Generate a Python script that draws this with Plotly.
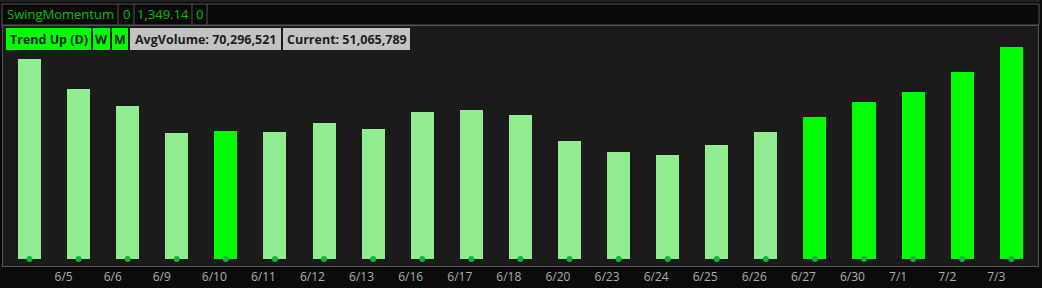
import plotly.graph_objects as go

# ---- data ----
dates = ["6/4", "6/5", "6/6", "6/9", "6/10", "6/11", "6/12", "6/13", "6/16", "6/17", "6/18",
         "6/20", "6/23", "6/24", "6/25", "6/26", "6/27", "6/30", "7/1", "7/2", "7/3"]
volumes = [48175000, 40949000, 36854000, 30350000, 30832000, 30591000, 32759000, 31314000,
           35409000, 35890000, 34686000, 28423000, 25774000, 25051000, 27460000, 30591000,
           34204000, 37818000, 40226000, 45044000, 51065789]
strong = [0, 0, 0, 0, 1, 0, 0, 0, 0, 0, 0, 0, 0, 0, 0, 0, 1, 1, 1, 1, 1]
header_cells = ["SwingMomentum", "0", "1,349.14", "0"]
label_cells = ["Trend Up (D)", "W", "M", "AvgVolume: 70,296,521", "Current: 51,065,789"]

W, H = 1042, 288
LIGHT = "#90ee90"
BRIGHT = "#00ff00"

xs = list(range(len(dates)))
colors = [BRIGHT if s else LIGHT for s in strong]

fig = go.Figure()
fig.add_trace(go.Bar(x=xs, y=volumes, marker=dict(color=colors, line=dict(width=0)),
                     width=0.47, hoverinfo="skip"))
fig.add_trace(go.Scatter(x=xs, y=[0] * len(xs), mode="markers",
                         marker=dict(color="#12b43a", size=6), hoverinfo="skip"))


def px(X):
    return X / W


def py(Y):
    return 1 - Y / H


# plot area in pixels
PL, PR, PT, PB = 3, 1038, 26, 266
step = 49.09
c0 = 29.5
xr = [(PL - c0) / step, (PR - c0) / step]
per_px = 51065789 / 212.0
yr = [-(PB - 259) * per_px, (259 - PT) * per_px]

shapes = []
# header strip
shapes.append(dict(type="line", xref="paper", yref="paper", x0=0, x1=px(1040), y0=py(1), y1=py(1),
                   line=dict(color="#3a3a3a", width=1)))
shapes.append(dict(type="rect", xref="paper", yref="paper", x0=px(2), x1=px(1039), y0=py(4), y1=py(25),
                   fillcolor="#0a0a0a", line=dict(color="#555555", width=1), layer="below"))
hdr_edges = [2, 118, 134, 192, 207]
for xe in hdr_edges[1:]:
    shapes.append(dict(type="line", xref="paper", yref="paper", x0=px(xe), x1=px(xe), y0=py(4), y1=py(25),
                       line=dict(color="#555555", width=1)))

annotations = []
for i, t in enumerate(header_cells):
    cx = (hdr_edges[i] + hdr_edges[i + 1]) / 2
    annotations.append(dict(text=t, xref="paper", yref="paper", x=px(cx), y=py(14.5),
                            showarrow=False, xanchor="center", yanchor="middle",
                            font=dict(family="Open Sans", size=13, color="#00c000")))

# label boxes
box_x = [(6, 91), (93, 110), (112, 128), (130, 281), (283, 410)]
box_fill = [BRIGHT, BRIGHT, BRIGHT, "#c3c3c3", "#c3c3c3"]
for (x0, x1), f, t in zip(box_x, box_fill, label_cells):
    shapes.append(dict(type="rect", xref="paper", yref="paper", x0=px(x0), x1=px(x1), y0=py(28), y1=py(50),
                       fillcolor=f, line=dict(width=0), layer="above"))
    annotations.append(dict(text="<b>" + t + "</b>", xref="paper", yref="paper", x=px((x0 + x1) / 2),
                            y=py(39.5), showarrow=False, xanchor="center", yanchor="middle",
                            font=dict(family="Open Sans", size=12.5, color="#1e1e1e")))

fig.update_layout(
    width=W, height=H,
    margin=dict(l=0, r=0, t=0, b=0, autoexpand=False),
    paper_bgcolor="#0b0b0b", plot_bgcolor="#1b1b1b",
    showlegend=False, bargap=0,
    shapes=shapes, annotations=annotations,
    xaxis=dict(domain=[px(PL), px(PR)], range=xr, showgrid=False, zeroline=False,
               showline=True, mirror=True, linecolor="#555555", linewidth=1,
               tickvals=[i - 0.5 for i in xs[1:]], ticktext=dates[1:],
               ticklabelposition="outside right", ticks="", ticklen=0,
               tickfont=dict(family="Open Sans", size=12, color="#a7aeb6")),
    yaxis=dict(domain=[py(PB), py(PT)], range=yr, showgrid=False, zeroline=False,
               showline=True, mirror=True, linecolor="#555555", linewidth=1,
               showticklabels=False, ticks=""),
)

fig.write_html("out.html")
